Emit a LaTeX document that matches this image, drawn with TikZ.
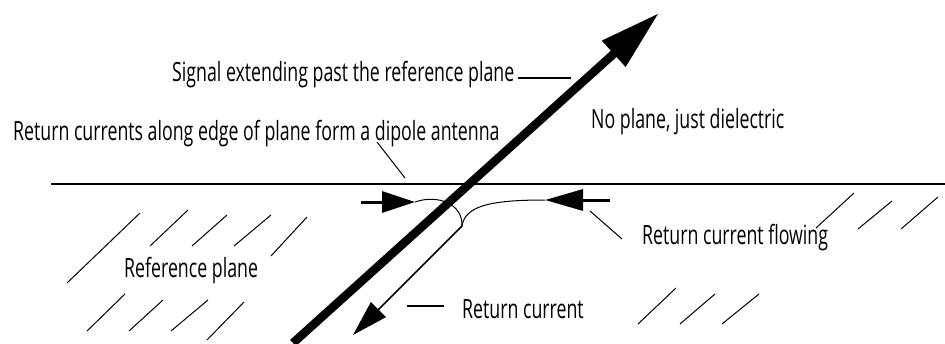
\documentclass[tikz,border=0pt]{standalone}
\usepackage{fontspec}
\setmainfont[FakeStretch=0.67]{Open Sans}
\usetikzlibrary{arrows.meta}

\begin{document}
\begin{tikzpicture}[x=1pt, y=-1pt,
    labeltext/.style={anchor=base west, inner sep=0pt,
        font=\fontsize{26.5}{28}\selectfont},
    hatch/.style={line width=1pt},
    leader/.style={line width=1pt},
    current/.style={line width=1pt}]

\useasboundingbox (0,0) rectangle (945,343);

% Edge of the reference plane
\coordinate (edgeL) at (51,184);
\coordinate (edgeR) at (945,184);
\draw[line width=1.8pt]
    (edgeL) -- (edgeR);

% Hatching of the plane, left and right of the gap
\foreach \xa/\ya/\xb/\yb in {67/283/140/213, 150/246/188/210,
    192/246/227/215, 234/246/271/215, 271/256/307/217,
    87/331/125/294, 129/331/163/300, 171/331/208/300, 207/340/244/302,
    816/228/854/193, 858/229/892/201, 901/229/938/197,
    638/324/676/288, 680/324/715/294, 722/324/759/294}
  \draw[hatch] (\xa,\ya) -- (\xb,\yb);

% Return currents coming in along the edge
\coordinate (inL) at (361,202);
\coordinate (tipL) at (415,202);
\draw[line width=3pt, -{Triangle[length=33pt,width=21pt]}]
    (inL) -- (tipL);

\coordinate (inR) at (610,200);
\coordinate (tipR) at (545,200);
\draw[line width=3pt, -{Triangle[length=38pt,width=21pt]}]
    (inR) -- (tipR);

% Return current under the trace
\coordinate (retS) at (462,226);
\coordinate (retE) at (353,335);
\draw[current]
    (tipL) .. controls (438,194) and (463,204) .. (retS);
\draw[current]
    (retS) .. controls (465,206) and (490,200) .. (tipR);
\draw[line width=1.5pt, -{Triangle[length=36pt,width=21pt]}]
    (retS) -- (retE);

% Signal trace
\coordinate (sigS) at (293,343);
\coordinate (sigE) at (659,13);
\draw[line width=8.5pt, -{Triangle[length=61pt,width=33pt]}]
    (sigS) -- (sigE);

% Labels
\node[labeltext] (signal) at (172,81)
    {Signal extending past the reference plane};
\node[labeltext] (dielectric) at (591,128)
    {No plane, just dielectric};
\node[labeltext] (dipole) at (13,140)
    {Return currents along edge of plane form a dipole antenna};
\node[labeltext] (flowing) at (642,244)
    {Return current flowing};
\node[labeltext] (refplane) at (124,277)
    {Reference plane};
\node[labeltext] (retlabel) at (462,318)
    {Return current};

% Leader lines
\coordinate (signalTag) at (571,78);
\draw[line width=2pt]
    ([xshift=4pt]signal.east |- signalTag) -- (signalTag);

\coordinate (dipoleA) at (377,142);
\coordinate (dipoleB) at (405,178);
\draw[leader]
    (dipoleA) -- (dipoleB);

\coordinate (flowA) at (622,239);
\coordinate (flowB) at (590,211);
\draw[leader]
    (flowA) -- (flowB);

\coordinate (retTag) at (407,306);
\draw[line width=2pt]
    (retTag) -- ([xshift=-18pt]retlabel.west |- retTag);

\end{tikzpicture}
\end{document}
